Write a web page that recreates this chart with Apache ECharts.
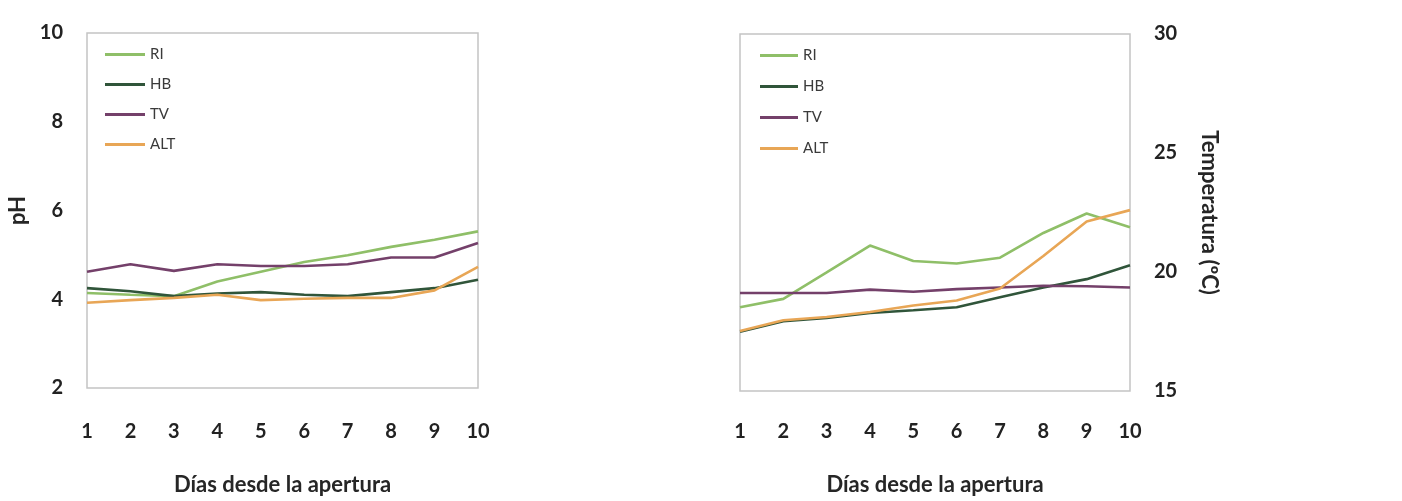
<!DOCTYPE html>
<html><head><meta charset="utf-8">
<script src="https://cdn.jsdelivr.net/npm/echarts@6/dist/echarts.min.js"></script>
<style>html,body{margin:0;padding:0;background:#fff}#c{width:1402px;height:501px}</style>
</head><body><div id="c"></div>
<script>
const days = ['1','2','3','4','5','6','7','8','9','10'];
const seriesNames = ['RI','HB','TV','ALT'];
const colors = ['#8fbf68','#30553a','#74406a','#e8a656'];
// pH (left panel)
const phRI  = [4.14,4.10,4.07,4.40,4.62,4.84,4.99,5.18,5.34,5.53];
const phHB  = [4.25,4.18,4.07,4.13,4.16,4.10,4.07,4.16,4.25,4.44];
const phTV  = [4.62,4.79,4.64,4.79,4.75,4.75,4.79,4.94,4.94,5.27];
const phALT = [3.92,3.98,4.03,4.10,3.98,4.01,4.03,4.03,4.20,4.73];
// Temperature (right panel)
const tRI  = [18.52,18.87,19.98,21.11,20.46,20.36,20.60,21.64,22.46,21.88];
const tHB  = [17.49,17.93,18.07,18.28,18.39,18.52,18.94,19.35,19.70,20.28];
const tTV  = [19.12,19.12,19.12,19.26,19.17,19.28,19.35,19.42,19.40,19.35];
const tALT = [17.52,17.97,18.11,18.32,18.59,18.80,19.31,20.67,22.12,22.60];
const phTicks = [2,10,2];
const tTicks = [15,30,5];
const xTitle = 'Días desde la apertura';
const yLeftTitle = 'pH';
const yRightTitle = 'Temperatura (ºC)';

const FONT = 'Lato';
const tickStyle = {fontFamily: FONT, fontSize: 20, fontWeight: 'bold', color: '#222'};
const nameStyle = {fontFamily: FONT, fontSize: 22, fontWeight: 'bold', color: '#262626'};

function mkSeries(name, data, idx, gi) {
  return {name, type: 'line', data, xAxisIndex: gi, yAxisIndex: gi, showSymbol: false, symbol: 'none',
    lineStyle: {color: colors[idx], width: 2.6}, itemStyle: {color: colors[idx]}, animation: false};
}
const chart = echarts.init(document.getElementById('c'));
chart.setOption({
  animation: false,
  grid: [
    {left: 87, top: 33, width: 391, height: 360, show: true, borderColor: '#c4c4c4', borderWidth: 1.5},
    {left: 740, top: 34, width: 390, height: 362, show: true, borderColor: '#c4c4c4', borderWidth: 1.5}
  ],
  legend: [
    {data: seriesNames, orient: 'vertical', left: 100, top: 42, itemWidth: 40, itemHeight: 3, icon: 'rect', itemGap: 15,
     textStyle: {fontFamily: FONT, fontSize: 15, color: '#3a3a3a'}, selectedMode: false},
    {data: seriesNames, orient: 'vertical', left: 755, top: 43, itemWidth: 38, itemHeight: 3, icon: 'rect', itemGap: 16,
     textStyle: {fontFamily: FONT, fontSize: 15, color: '#3a3a3a'}, selectedMode: false}
  ],
  xAxis: [0,1].map(gi => ({
    type: 'category', data: days, boundaryGap: false, gridIndex: gi,
    axisLine: {show: false}, axisTick: {show: false}, splitLine: {show: false},
    axisLabel: Object.assign({margin: gi === 0 ? 34 : 31, interval: 0}, tickStyle),
    name: xTitle, nameLocation: 'middle', nameGap: gi === 0 ? 86 : 83, nameTextStyle: nameStyle
  })),
  yAxis: [
    {type: 'value', gridIndex: 0, min: phTicks[0], max: phTicks[1], interval: phTicks[2],
     axisLine: {show: false}, axisTick: {show: false}, splitLine: {show: false},
     axisLabel: Object.assign({margin: 24}, tickStyle),
     name: yLeftTitle, nameLocation: 'middle', nameRotate: 90, nameGap: 58, nameTextStyle: nameStyle},
    {type: 'value', gridIndex: 1, position: 'right', min: tTicks[0], max: tTicks[1], interval: tTicks[2],
     axisLine: {show: false}, axisTick: {show: false}, splitLine: {show: false},
     axisLabel: Object.assign({margin: 24}, tickStyle),
     name: yRightTitle, nameLocation: 'middle', nameRotate: -90, nameGap: 68, nameTextStyle: nameStyle}
  ],
  series: [
    mkSeries('RI', phRI, 0, 0), mkSeries('HB', phHB, 1, 0), mkSeries('TV', phTV, 2, 0), mkSeries('ALT', phALT, 3, 0),
    mkSeries('RI', tRI, 0, 1), mkSeries('HB', tHB, 1, 1), mkSeries('TV', tTV, 2, 1), mkSeries('ALT', tALT, 3, 1)
  ]
});
</script></body></html>
